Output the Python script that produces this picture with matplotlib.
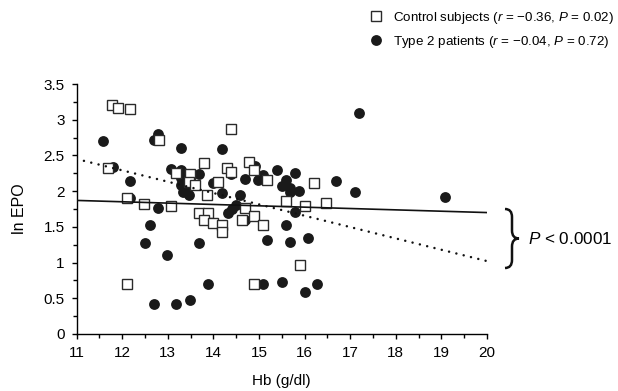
import numpy as np
import matplotlib
matplotlib.use("Agg")
import matplotlib.pyplot as plt
from matplotlib.path import Path
from matplotlib.patches import PathPatch

plt.rcParams['font.family'] = ['Liberation Sans', 'DejaVu Sans']
plt.rcParams['mathtext.fontset'] = 'custom'
plt.rcParams['mathtext.rm'] = 'Liberation Sans'
plt.rcParams['mathtext.it'] = 'Liberation Sans:italic'

# control subjects (open squares)
ctrl_hb = [11.78, 11.90, 12.17, 12.80, 14.38, 13.79, 11.69, 13.19, 13.48, 14.30,
           14.38, 14.79, 14.89, 13.47, 13.59, 14.11, 13.87, 15.18, 16.20, 15.60,
           16.00, 16.46, 12.10, 12.48, 13.08, 13.69, 13.89, 13.79, 14.00, 14.19,
           14.19, 14.62, 14.69, 14.89, 15.09, 12.10, 14.89, 15.90]
ctrl_epo = [3.21, 3.16, 3.15, 2.72, 2.87, 2.40, 2.33, 2.26, 2.24, 2.33,
            2.27, 2.41, 2.29, 2.13, 2.09, 2.13, 1.95, 2.16, 2.11, 1.86,
            1.79, 1.84, 1.91, 1.82, 1.79, 1.69, 1.69, 1.60, 1.55, 1.53,
            1.43, 1.60, 1.76, 1.65, 1.53, 0.70, 0.70, 0.96]

# type 2 patients (filled circles)
t2_hb = [11.58, 12.79, 12.70, 13.29, 14.19, 11.80, 12.17, 13.08, 13.29, 13.68,
         14.38, 14.69, 14.98, 13.99, 14.19, 14.58, 14.91, 15.09, 15.39, 15.79,
         15.59, 15.50, 15.69, 15.88, 15.68, 16.69, 17.10, 17.20, 19.09, 12.18,
         12.79, 12.60, 12.49, 12.99, 13.68, 12.69, 13.19, 13.48, 13.89, 15.09,
         15.50, 16.00, 16.28, 14.32, 14.41, 14.50, 14.70, 15.80, 15.60, 15.18,
         15.68, 16.08, 13.29, 13.30, 13.33, 13.46, 13.42]
t2_epo = [2.70, 2.80, 2.71, 2.60, 2.59, 2.34, 2.14, 2.31, 2.30, 2.24,
          2.24, 2.17, 2.16, 2.12, 1.97, 1.95, 2.35, 2.23, 2.29, 2.26,
          2.16, 2.07, 2.04, 2.00, 1.99, 2.14, 1.99, 3.09, 1.92, 1.91,
          1.76, 1.53, 1.28, 1.10, 1.28, 0.42, 0.42, 0.47, 0.70, 0.70,
          0.73, 0.59, 0.70, 1.69, 1.75, 1.80, 1.60, 1.71, 1.53, 1.31,
          1.29, 1.34, 2.18, 2.08, 1.99, 1.94, 2.04]

# regression lines
fit_x = [11, 20]
ctrl_fit = [2.45, 1.02]
t2_fit = [1.87, 1.70]

fig = plt.figure(figsize=(6.18, 3.91), dpi=100)
ax = fig.add_axes([0.124, 0.146, 0.664, 0.639])

ax.plot(t2_hb, t2_epo, 'o', color='#1a1a1a', markersize=7.8, markeredgewidth=0,
        label='Type 2 patients ($r$ = \u22120.04, $P$ = 0.72)', zorder=2)
ax.plot(ctrl_hb, ctrl_epo, 's', markerfacecolor='white', markeredgecolor='#2a2a2a',
        markersize=6.8, markeredgewidth=1.0,
        label='Control subjects ($r$ = \u22120.36, $P$ = 0.02)', zorder=3)
ax.plot(fit_x, t2_fit, '-', color='#111111', linewidth=1.2, zorder=4)
ax.plot(fit_x, ctrl_fit, color='#111111', linewidth=1.8, linestyle=(0, (0.01, 3.0)),
        dash_capstyle='round', zorder=4)

ax.set_xlim(11, 20)
ax.set_ylim(0, 3.5)
ax.set_xticks(np.arange(11, 21, 1))
ax.set_xticks(np.arange(11, 20.01, 0.5), minor=True)
ax.set_yticks([0, 0.5, 1, 1.5, 2, 2.5, 3, 3.5])
ax.set_yticklabels(['0', '0.5', '1', '1.5', '2', '2.5', '3', '3.5'])
ax.set_yticks(np.arange(0, 3.51, 0.25), minor=True)
ax.spines['top'].set_visible(False)
ax.spines['right'].set_visible(False)
for s in ['left', 'bottom']:
    ax.spines[s].set_linewidth(1.0)
ax.tick_params(which='both', direction='out', width=1.0, labelsize=11, pad=5)
ax.tick_params(which='major', length=3.5)
ax.tick_params(which='minor', length=3)
ax.set_xlabel('Hb (g/dl)', fontsize=11, labelpad=10)
ax.set_ylabel('ln EPO', fontsize=11.5, labelpad=12)

h, l = ax.get_legend_handles_labels()
fig.legend(h[::-1], l[::-1], loc='upper right', bbox_to_anchor=(0.993, 0.975),
           frameon=False, fontsize=9.6, handlelength=1.0, handletextpad=0.75,
           labelspacing=0.62, borderpad=0, borderaxespad=0)

# brace and P value, drawn in figure pixel coords
ov = fig.add_axes([0, 0, 1, 1])
ov.set_xlim(0, 618)
ov.set_ylim(391, 0)
ov.axis('off')
x0, w, top, bot = 505, 14, 209, 268
mid = (top + bot) / 2
q = 8
verts = [(x0, top), (x0 + w / 2, top), (x0 + w / 2, top + q),
         (x0 + w / 2, mid - q),
         (x0 + w / 2, mid), (x0 + w, mid),
         (x0 + w / 2, mid), (x0 + w / 2, mid + q),
         (x0 + w / 2, bot - q),
         (x0 + w / 2, bot), (x0, bot)]
codes = [Path.MOVETO, Path.CURVE3, Path.CURVE3, Path.LINETO,
         Path.CURVE3, Path.CURVE3, Path.CURVE3, Path.CURVE3,
         Path.LINETO, Path.CURVE3, Path.CURVE3]
ov.add_patch(PathPatch(Path(verts, codes), facecolor='none', edgecolor='#111111', linewidth=1.8))
ov.text(528, mid, '$P$ < 0.0001', fontsize=12.3, va='center', ha='left')

fig.savefig('out.png', dpi=100)
